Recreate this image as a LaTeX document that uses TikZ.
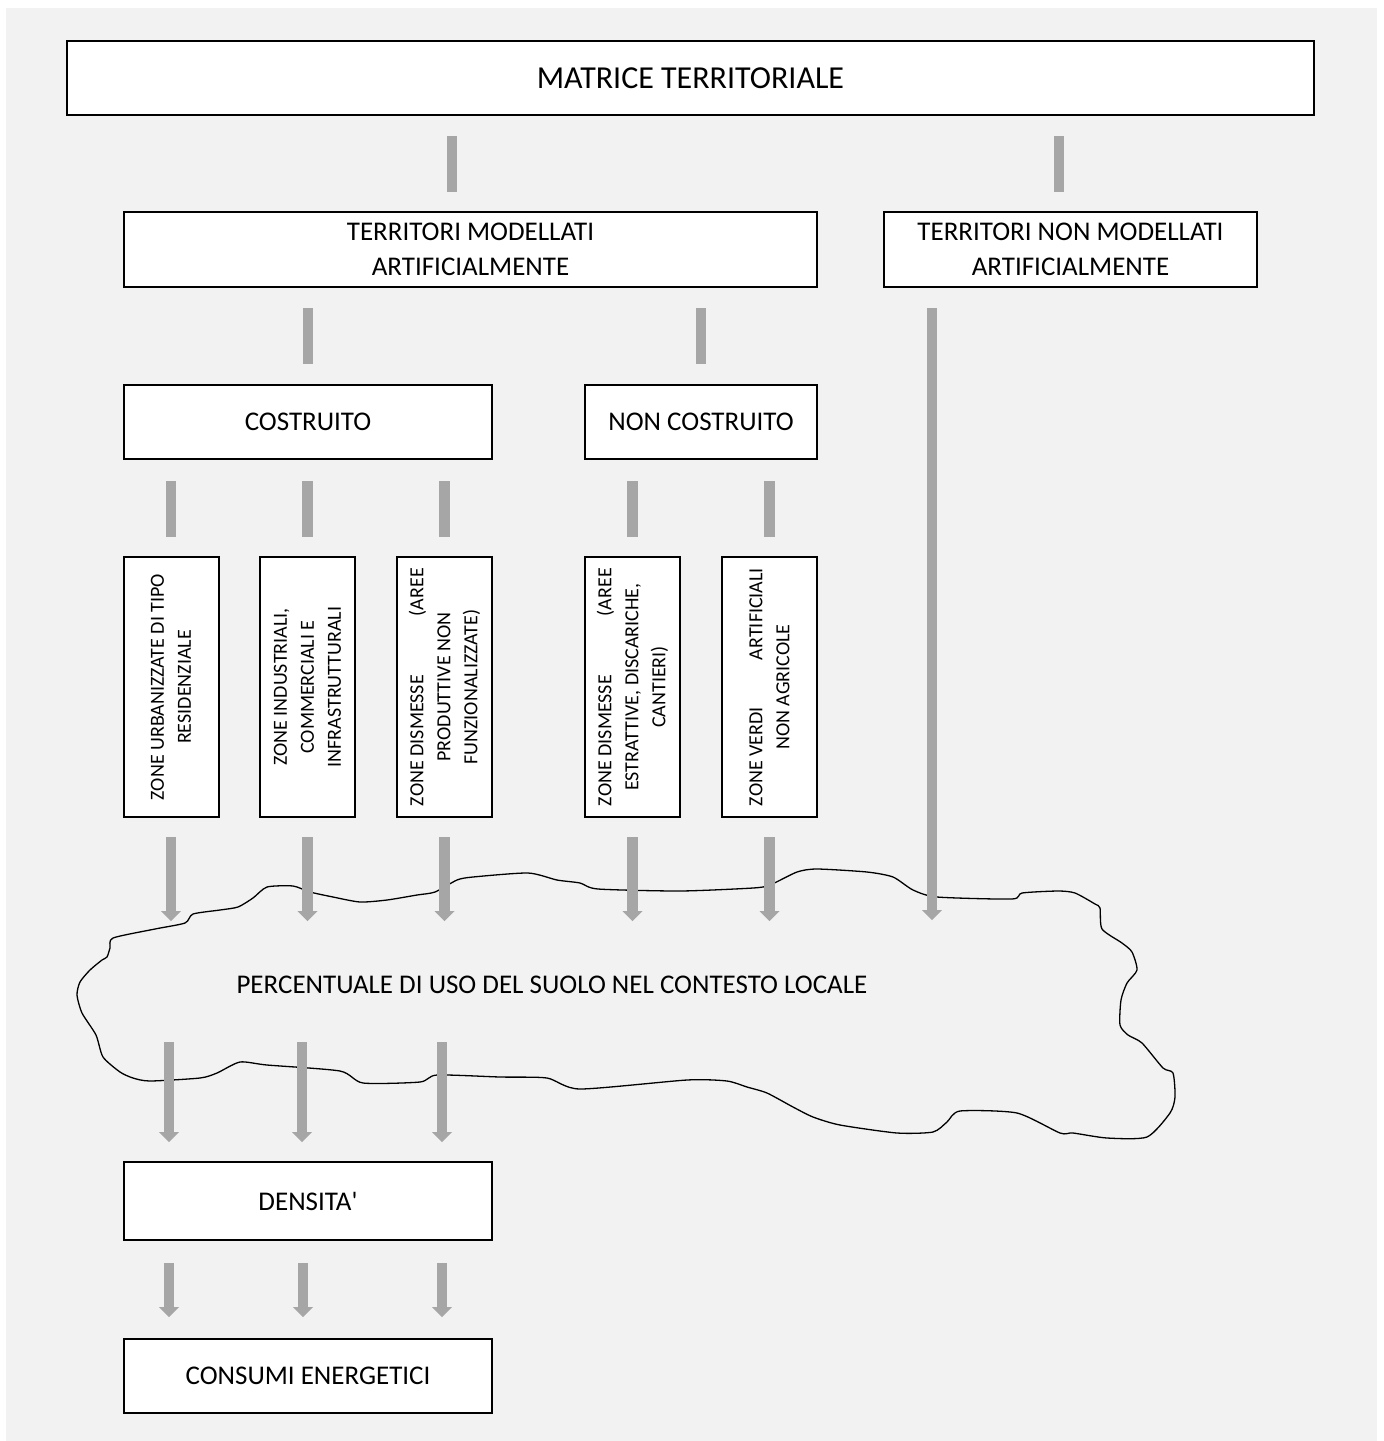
\documentclass[tikz,border=0pt]{standalone}
\usepackage{fontspec}
\setmainfont{Carlito}
\usetikzlibrary{arrows.meta}
\definecolor{bggray}{HTML}{F2F2F2}
\definecolor{bargray}{HTML}{A6A6A6}
\tikzset{
  box/.style={draw, line width=2pt, fill=white, inner sep=0pt, align=center, font=\fontsize{27}{35}\selectfont},
  vbox/.style={draw, line width=2pt, fill=white, inner sep=0pt, minimum width=95, minimum height=260},
  bar/.style={draw=bargray, line width=10.5pt},
  garrow/.style={bar, -{Triangle[width=20pt,length=10pt,line width=0pt]}},
}
\newcommand{\vtext}[1]{\rotatebox{90}{\parbox{238pt}{\fontsize{20}{27}\selectfont\centering #1}}}
\begin{document}
\begin{tikzpicture}[x=1pt,y=-1pt]
\useasboundingbox (0,0) rectangle (1384,1441);
\fill[bggray] (6,8) rectangle (1377,1441);

\node[box, minimum width=1247, minimum height=74, font=\fontsize{32}{35}\selectfont] (matrice) at (690.5,78) {MATRICE TERRITORIALE};
\node[box, minimum width=693, minimum height=75] (tma) at (470.5,249.5) {TERRITORI MODELLATI\\ARTIFICIALMENTE};
\node[box, minimum width=373, minimum height=75] (tnma) at (1070.5,249.5) {TERRITORI NON MODELLATI\\ARTIFICIALMENTE};
\node[box, minimum width=368, minimum height=74] (cost) at (308,422) {COSTRUITO};
\node[box, minimum width=232, minimum height=74] (ncost) at (701,422) {NON COSTRUITO};

\node[vbox] (z1) at (171,687) {\vtext{ZONE URBANIZZATE DI TIPO\\RESIDENZIALE}};
\node[vbox] (z2) at (307.5,687) {\vtext{ZONE INDUSTRIALI,\\COMMERCIALI E\\INFRASTRUTTURALI}};
\node[vbox] (z3) at (444.5,687) {\vtext{ZONE DISMESSE\hfill(AREE\\PRODUTTIVE NON\\FUNZIONALIZZATE)}};
\node[vbox] (z4) at (632.5,687) {\vtext{ZONE DISMESSE\hfill(AREE\\ESTRATTIVE, DISCARICHE,\\CANTIERI)}};
\node[vbox] (z5) at (769.5,687) {\vtext{ZONE VERDI\hfill ARTIFICIALI\\NON AGRICOLE}};

\node[box, minimum width=368, minimum height=78] (dens) at (308,1201) {DENSITA\textquotesingle};
\node[box, minimum width=368, minimum height=74] (cons) at (308,1376) {CONSUMI ENERGETICI};

\draw[line width=1.3pt] plot[smooth cycle, tension=0.4] coordinates {
  (113,938) (155,929) (185,923) (193,914) (220,910) (238,907) (253,898) (267,887)
  (293,886) (310,892) (333,897) (360,902) (387,900) (417,895) (435,892) (457,880)
  (473,877) (528,873) (557,880) (580,883) (598,889) (680,891) (753,888) (770,885)
  (797,872) (817,869) (867,872) (893,877) (913,890) (937,897) (1012,899) (1022,893)
  (1058,891) (1075,893) (1095,904) (1100,908) (1102,929) (1122,943) (1132,952) (1137,970)
  (1127,983) (1121,1000) (1120,1025) (1128,1035) (1142,1043) (1163,1068) (1173,1073) (1175,1097)
  (1170,1113) (1147,1137) (1107,1138) (1073,1133) (1060,1133) (1017,1113) (960,1111) (947,1122)
  (933,1132) (897,1133) (840,1125) (813,1117) (793,1107) (767,1093) (747,1087) (727,1081)
  (687,1080) (580,1089) (547,1078) (500,1077) (437,1075) (420,1082) (363,1083) (340,1071)
  (267,1065) (240,1062) (217,1073) (200,1078) (150,1081) (133,1078) (120,1072) (103,1057)
  (96,1035) (82,1013) (77,995) (80,982) (90,970) (102,960) (107,957) (110,948)};
\node[font=\fontsize{27}{35}\selectfont] (perc) at (552,985) {PERCENTUALE DI USO DEL SUOLO NEL CONTESTO LOCALE};

\draw[bar, shorten <=20pt, shorten >=19pt] (matrice.south -| 452,0) -- (tma.north -| 452,0);
\draw[bar, shorten <=20pt, shorten >=19pt] (matrice.south -| 1059,0) -- (tnma.north -| 1059,0);
\draw[bar, shorten <=20pt, shorten >=20pt] (tma.south -| cost) -- (cost.north);
\draw[bar, shorten <=20pt, shorten >=20pt] (tma.south -| ncost) -- (ncost.north);
\foreach \z in {z1,z2,z3}
  \draw[bar, shorten <=21pt, shorten >=19pt] (cost.south -| \z) -- (\z.north);
\foreach \z in {z4,z5}
  \draw[bar, shorten <=21pt, shorten >=19pt] (ncost.south -| \z) -- (\z.north);
\foreach \z in {z1,z2,z3,z4,z5}
  \draw[garrow, shorten <=19pt] (\z.south) -- (\z.south |- 0,921);
\draw[garrow, shorten <=20pt] (tnma.south -| 932,0) -- (932,920);
\foreach \x in {169,302,442}
  \draw[garrow, shorten >=19pt] (\x,1042) -- (dens.north -| \x,0);
\foreach \x in {169,303,442}
  \draw[garrow, shorten <=22pt, shorten >=21pt] (dens.south -| \x,0) -- (cons.north -| \x,0);
\end{tikzpicture}
\end{document}
